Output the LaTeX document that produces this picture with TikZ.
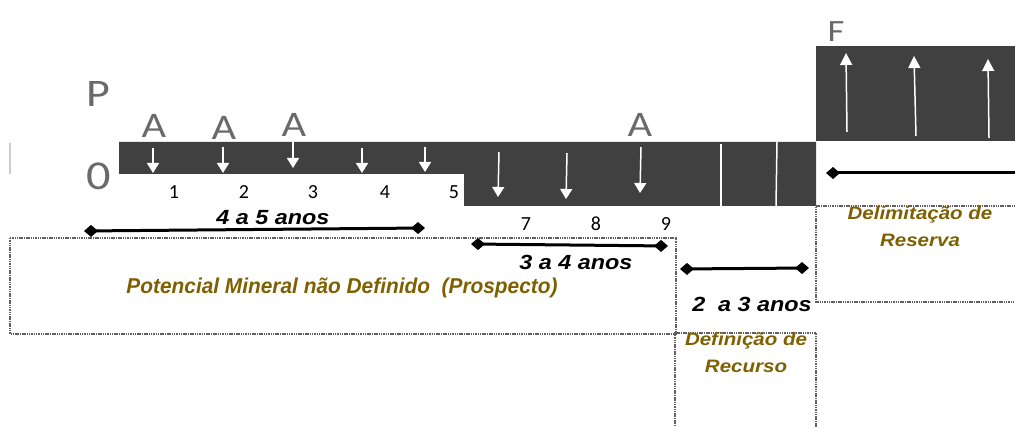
\documentclass[tikz,border=0pt]{standalone}
\usepackage{fontspec}
\newfontfamily\arialwide[FakeStretch=1.14]{Liberation Sans}
\newfontfamily\arialnarrow[FakeStretch=0.97]{Liberation Sans}
\newfontfamily\calwide[FakeStretch=1.18]{Carlito}
\newfontfamily\calfont{Carlito}
\usetikzlibrary{arrows.meta}
\definecolor{barcol}{HTML}{404040}
\definecolor{goldcol}{HTML}{7F6000}
\definecolor{lettercol}{HTML}{6A6A6A}
\begin{document}
\begin{tikzpicture}[x=1pt,y=-1pt,
 bigletter/.style={font=\calwide\fontsize{36}{36}\selectfont, text=lettercol, inner sep=0, anchor=base},
 numlabel/.style={font=\calfont\fontsize{20}{20}\selectfont, inner sep=0, anchor=base},
 durlabel/.style={font=\arialwide\bfseries\itshape\fontsize{20.5}{20}\selectfont, inner sep=0, anchor=base},
 phase/.style={font=\arialwide\bfseries\itshape\fontsize{18}{27.5}\selectfont, text=goldcol, align=center, inner sep=0, anchor=base},
 bigphase/.style={font=\arialnarrow\bfseries\itshape\fontsize{21.5}{26}\selectfont, text=goldcol, inner sep=0, anchor=base},
 downarrow/.style={white, line width=1.5pt, -{Triangle[width=12pt,length=10pt]}},
 uparrow/.style={white, line width=1.5pt, -{Triangle[width=12pt,length=12pt]}},
 spanline/.style={line width=3pt, {Diamond[width=12pt,length=14pt]}-{Diamond[width=12pt,length=14pt]}},
 openspan/.style={line width=3pt, {Diamond[width=12pt,length=14pt]}-},
 dotbox/.style={draw=gray!75!black, dash pattern=on 1.5pt off 0.8pt, line width=2.2pt}]
\useasboundingbox (0,0) rectangle (1015,427);
% dark bars
\fill[barcol] (119,142) -- (816,142) -- (816,206) -- (464,206) -- (464,174) -- (119,174) -- cycle;
\fill[barcol] (816,46) rectangle (1015,141);
\draw[gray!40, line width=2pt] (10,143) -- (10,174);
% separators
\coordinate (sa1) at (721,144); \coordinate (sa2) at (721,206);
\coordinate (sb1) at (777,142); \coordinate (sb2) at (776,206);
\draw[white, line width=1.5pt] (sa1) -- (sa2);
\draw[white, line width=1.5pt] (sb1) -- (sb2);
% dotted boxes
\draw[dotbox] (10,238) rectangle (676,334);
\draw[dotbox] (675,440) -- (675,333) -- (816,333) -- (816,440);
\draw[dotbox] (1020,206) -- (816,206) -- (816,302) -- (1020,302);
% letters
\node[bigletter, font=\calwide\fontsize{39}{39}\selectfont] (P) at (98,107) {P};
\node[bigletter, font=\calwide\fontsize{41}{41}\selectfont] (zero) at (99,190) {0};
\node[bigletter] (A1) at (154,138) {A};
\node[bigletter] (A2) at (224,140) {A};
\node[bigletter] (A3) at (294,137) {A};
\node[bigletter] (A4) at (640,137) {A};
\node[bigletter, font=\calwide\fontsize{31}{31}\selectfont] (F) at (836,42) {F};
% numbers
\node[numlabel] (n1) at (174,199) {1};
\node[numlabel] (n2) at (244,199) {2};
\node[numlabel] (n3) at (313,199) {3};
\node[numlabel] (n4) at (385,199) {4};
\node[numlabel] (n5) at (454,199) {5};
\node[numlabel] (n7) at (526,231) {7};
\node[numlabel] (n8) at (596,231) {8};
\node[numlabel] (n9) at (666,231) {9};
% down arrows, first bar
\foreach \i/\x/\ya/\yb in {1/153/148/173, 2/223/147/173, 3/293/142/168, 4/362/148/173, 5/425/147/172}{
  \coordinate (da\i) at (\x,\ya); \coordinate (db\i) at (\x,\yb);
  \draw[downarrow] (da\i) -- (db\i);
}
% down arrows, second bar
\foreach \i/\xa/\ya/\xb/\yb in {6/499/152/498/197, 7/567/153/566/199, 8/641/147/640/193}{
  \coordinate (da\i) at (\xa,\ya); \coordinate (db\i) at (\xb,\yb);
  \draw[downarrow] (da\i) -- (db\i);
}
% up arrows
\foreach \i/\xa/\ya/\xb/\yb in {1/847/132/846/53, 2/916/136/914/56, 3/989/138/988/59}{
  \coordinate (ua\i) at (\xa,\ya); \coordinate (ub\i) at (\xb,\yb);
  \draw[uparrow] (ua\i) -- (ub\i);
}
% duration spans
\coordinate (s1a) at (84,231); \coordinate (s1b) at (425,228);
\coordinate (s2a) at (471,244); \coordinate (s2b) at (668,246);
\coordinate (s3a) at (680,269); \coordinate (s3b) at (809,268);
\coordinate (s4a) at (826,173); \coordinate (s4b) at (1020,173);
\draw[spanline] (s1a) -- (s1b);
\draw[spanline] (s2a) -- (s2b);
\draw[spanline] (s3a) -- (s3b);
\draw[openspan] (s4a) -- (s4b);
\node[durlabel] (d1) at (273,225) {4 a 5 anos};
\node[durlabel] (d2) at (576,270) {3 a 4 anos};
\node[durlabel] (d3) at (752,312) {2\ \ a 3 anos};
% phase labels
\node[bigphase] (pot) at (342,294) {Potencial Mineral não Definido\ \ (Prospecto)};
\node[phase] (del) at (920,247) {Delimitação de\\Reserva};
\node[phase] (def) at (746,373) {Definição de\\Recurso};
\end{tikzpicture}
\end{document}
